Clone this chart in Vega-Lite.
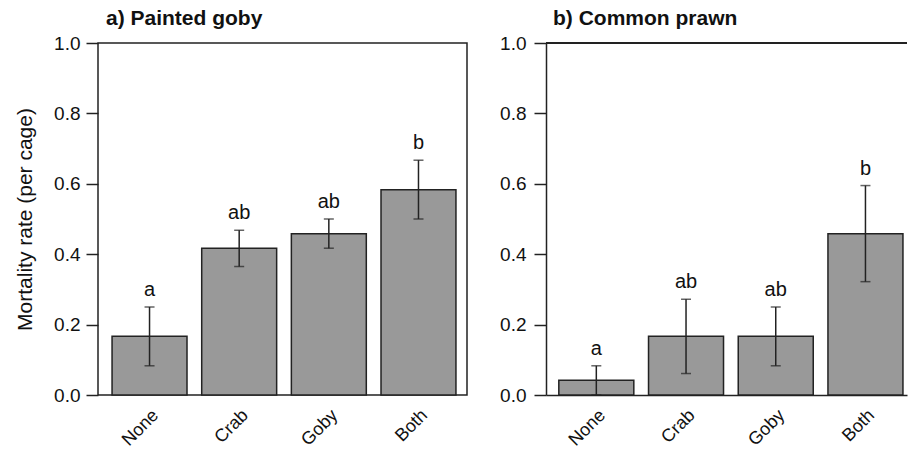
{
  "$schema": "https://vega.github.io/schema/vega-lite/v6.json",
  "padding": {"left": 13, "top": 7, "right": 0, "bottom": 0},
  "spacing": 31,
  "datasets": {
    "goby": [
      {"treatment": "None", "rate": 0.167, "lower": 0.083, "upper": 0.25, "letter": "a"},
      {"treatment": "Crab", "rate": 0.417, "lower": 0.365, "upper": 0.468, "letter": "ab"},
      {"treatment": "Goby", "rate": 0.458, "lower": 0.417, "upper": 0.5, "letter": "ab"},
      {"treatment": "Both", "rate": 0.583, "lower": 0.5, "upper": 0.667, "letter": "b"}
    ],
    "prawn": [
      {"treatment": "None", "rate": 0.042, "lower": 0.0, "upper": 0.083, "letter": "a"},
      {"treatment": "Crab", "rate": 0.167, "lower": 0.061, "upper": 0.272, "letter": "ab"},
      {"treatment": "Goby", "rate": 0.167, "lower": 0.083, "upper": 0.25, "letter": "ab"},
      {"treatment": "Both", "rate": 0.458, "lower": 0.322, "upper": 0.595, "letter": "b"}
    ]
  },
  "config": {
    "font": "Liberation Sans",
    "view": {"stroke": "#222", "strokeWidth": 1.5},
    "axis": {
      "grid": false,
      "domainColor": "#222",
      "domainWidth": 1.5,
      "tickColor": "#222",
      "tickWidth": 1.5,
      "labelColor": "#111",
      "titleColor": "#111",
      "labelFont": "Liberation Sans",
      "titleFont": "Liberation Sans"
    },
    "title": {"font": "Liberation Sans", "color": "#111"}
  },
  "hconcat": [
    {
      "width": 369,
      "height": 352,
      "data": {"name": "goby"},
      "title": {"text": "a) Painted goby", "anchor": "start", "frame": "group", "fontSize": 21, "fontWeight": "bold", "dx": 8, "offset": 5},
      "encoding": {
        "x": {
          "field": "treatment", "type": "nominal", "sort": ["None", "Crab", "Goby", "Both"],
          "scale": {"paddingInner": 0.164, "paddingOuter": 0.14, "align": 0.56},
          "axis": {"title": null, "labelAngle": -45, "ticks": false, "domain": false, "labelPadding": 11, "labelFontSize": 18}
        }
      },
      "layer": [
        {
          "mark": {"type": "bar", "fill": "#999999", "stroke": "#222", "strokeWidth": 1.5},
          "encoding": {
            "y": {
              "field": "rate", "type": "quantitative",
              "scale": {"domain": [0, 1], "nice": false, "zero": true},
              "axis": {"title": "Mortality rate (per cage)", "values": [0, 0.2, 0.4, 0.6, 0.8, 1.0], "format": ".1f", "tickSize": 12, "labelPadding": 6, "labelFontSize": 19, "titleFontSize": 21, "titleFontWeight": "normal", "titlePadding": 18, "domain": false}
            }
          }
        },
        {
          "mark": {"type": "rule", "stroke": "#222", "strokeWidth": 1.5},
          "encoding": {"y": {"field": "lower", "type": "quantitative"}, "y2": {"field": "upper"}}
        },
        {
          "mark": {"type": "tick", "color": "#222", "size": 10, "thickness": 1.5},
          "encoding": {"y": {"field": "upper", "type": "quantitative"}}
        },
        {
          "mark": {"type": "tick", "color": "#222", "size": 10, "thickness": 1.5},
          "encoding": {"y": {"field": "lower", "type": "quantitative"}}
        },
        {
          "mark": {"type": "text", "fontSize": 20, "dy": -11, "baseline": "alphabetic", "color": "#111"},
          "encoding": {"y": {"field": "upper", "type": "quantitative"}, "text": {"field": "letter"}}
        }
      ]
    },
    {
      "width": 361,
      "height": 352,
      "data": {"name": "prawn"},
      "view": {"stroke": null},
      "title": {"text": "b) Common prawn", "anchor": "start", "frame": "group", "fontSize": 21, "fontWeight": "bold", "dx": 7, "offset": 5},
      "layer": [
        {
          "encoding": {
            "x": {
              "field": "treatment", "type": "nominal", "sort": ["None", "Crab", "Goby", "Both"],
              "scale": {"paddingInner": 0.164, "paddingOuter": 0.094, "align": 0.76},
              "axis": {"title": null, "labelAngle": -45, "ticks": false, "domain": true, "labelPadding": 11, "labelFontSize": 18}
            }
          },
          "layer": [
            {
              "mark": {"type": "bar", "fill": "#999999", "stroke": "#222", "strokeWidth": 1.5},
              "encoding": {
                "y": {
                  "field": "rate", "type": "quantitative",
                  "scale": {"domain": [0, 1], "nice": false, "zero": true},
                  "axis": {"title": null, "values": [0, 0.2, 0.4, 0.6, 0.8, 1.0], "format": ".1f", "tickSize": 12, "labelPadding": 8, "labelFontSize": 19, "domain": true}
                }
              }
            },
            {
              "mark": {"type": "rule", "stroke": "#222", "strokeWidth": 1.5},
              "encoding": {"y": {"field": "lower", "type": "quantitative"}, "y2": {"field": "upper"}}
            },
            {
              "mark": {"type": "tick", "color": "#222", "size": 10, "thickness": 1.5},
              "encoding": {"y": {"field": "upper", "type": "quantitative"}}
            },
            {
              "mark": {"type": "tick", "color": "#222", "size": 10, "thickness": 1.5},
              "encoding": {"y": {"field": "lower", "type": "quantitative"}}
            },
            {
              "mark": {"type": "text", "fontSize": 20, "dy": -11, "baseline": "alphabetic", "color": "#111"},
              "encoding": {"y": {"field": "upper", "type": "quantitative"}, "text": {"field": "letter"}}
            }
          ]
        },
        {
          "mark": {"type": "rule", "stroke": "#222", "strokeWidth": 1.5},
          "encoding": {"y": {"datum": 1}}
        }
      ]
    }
  ]
}
